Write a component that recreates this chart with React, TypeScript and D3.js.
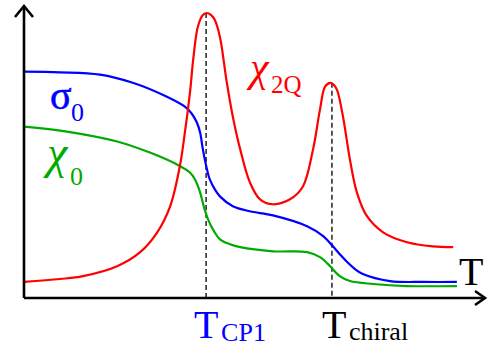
import * as d3 from "d3";
import { useEffect, useRef } from "react";

// curves: [T, value], both on a 0..100 scale
const chi2Q: [number, number][] = [
  [0, 5.5], [7.8, 6.5], [12.8, 7.5], [20.2, 10.9], [25.2, 15.7], [28.9, 22.5],
  [31.7, 31.4], [33.8, 45.1], [34.9, 56.7], [36.0, 70.3], [36.7, 81.6],
  [37.7, 92.8], [38.8, 96.9], [39.7, 97.6], [40.6, 96.9], [41.4, 95.2],
  [42.5, 89.4], [44.0, 73.7], [45.3, 62.1], [46.9, 50.9], [49.0, 39.6],
  [51.2, 33.8], [54.0, 32.1], [57.7, 33.8], [60.5, 38.2], [62.7, 50.9],
  [64.2, 64.5], [65.3, 72.4], [66.4, 73.7], [67.2, 73.0], [67.9, 71.3],
  [69.2, 62.1], [70.7, 47.4], [72.2, 36.2], [74.4, 28.0], [77.9, 22.5],
  [83.1, 19.1], [88.7, 17.7], [93.1, 17.4],
];

const sigma0: [number, number][] = [
  [0, 77.5], [7.8, 77.3], [16.5, 76.5], [23.6, 73.7], [31.0, 68.9],
  [34.9, 65.5], [36.4, 63.1], [37.5, 60.1], [38.2, 56.7], [38.8, 50.9],
  [39.7, 44.0], [40.3, 40.6], [41.4, 37.2], [42.5, 34.8], [45.3, 31.4],
  [49.0, 29.7], [54.0, 28.3], [61.4, 24.6], [64.9, 21.2], [67.0, 17.7],
  [68.5, 15.0], [70.1, 12.3], [71.8, 9.9], [73.5, 8.2], [79.4, 5.8],
  [86.6, 5.5], [93.9, 5.5],
];

const chi0: [number, number][] = [
  [0, 58.7], [9.3, 57.0], [20.2, 53.6], [27.3, 49.8], [33.2, 45.7],
  [36.0, 43.0], [37.1, 40.6], [38.2, 36.2], [39.0, 31.4], [39.9, 27.0],
  [41.2, 22.9], [42.5, 20.1], [44.7, 18.4], [46.9, 17.4], [54.0, 16.0],
  [61.4, 15.7], [64.2, 14.0], [65.3, 12.6], [66.4, 10.9], [68.5, 7.5],
  [70.7, 5.8], [75.7, 4.8], [83.1, 4.1], [93.9, 4.1],
];

// marked temperatures: [T, top of dashed line]
const markers: { name: string; sub: string; t: number; top: number; color: string }[] = [
  { name: "T", sub: "CP1", t: 39.5, top: 97.6, color: "#0000ff" },
  { name: "T", sub: "chiral", t: 66.8, top: 73.7, color: "#000000" },
];

const W = 488;
const H = 348;
const serif = "Liberation Serif, DejaVu Serif, serif";

export default function App() {
  const svgRef = useRef<SVGSVGElement>(null);

  useEffect(() => {
    const svg = d3.select(svgRef.current);
    svg.selectAll("*").remove();

    const x = d3.scaleLinear().domain([0, 100]).range([24, 485]);
    const y = d3.scaleLinear().domain([0, 100]).range([298, 6]);

    const line = d3
      .line<[number, number]>()
      .x((d) => x(d[0]))
      .y((d) => y(d[1]))
      .curve(d3.curveCatmullRom.alpha(0.5));

    // dashed guide lines
    svg.selectAll(".guide")
      .data(markers)
      .join("line")
      .attr("x1", (d) => x(d.t))
      .attr("x2", (d) => x(d.t))
      .attr("y1", (d) => y(d.top))
      .attr("y2", y(0))
      .attr("stroke", "#000")
      .attr("stroke-width", 1.3)
      .attr("stroke-dasharray", "5,3");

    const series = [
      { data: chi0, color: "#00aa00" },
      { data: sigma0, color: "#0000ff" },
      { data: chi2Q, color: "#ff0000" },
    ];
    svg.selectAll(".curve")
      .data(series)
      .join("path")
      .attr("d", (d) => line(d.data))
      .attr("fill", "none")
      .attr("stroke", (d) => d.color)
      .attr("stroke-width", 2.2);

    // axes with open arrow heads
    const ax = svg.append("g").attr("stroke", "#000").attr("stroke-width", 2.6).attr("fill", "none");
    ax.append("line").attr("x1", x(0)).attr("x2", x(0)).attr("y1", y(0)).attr("y2", y(100));
    ax.append("line").attr("x1", x(0)).attr("x2", x(100)).attr("y1", y(0)).attr("y2", y(0));
    ax.append("path")
      .attr("d", `M${x(0) - 9},${y(100) + 11}L${x(0)},${y(100)}L${x(0) + 9},${y(100) + 11}`);
    ax.append("path")
      .attr("d", `M${x(100) - 10},${y(0) - 7}L${x(100)},${y(0)}L${x(100) - 10},${y(0) + 7}`);

    const label = (tx: number, ty: number, s: string, size: number, color: string, italic = false) =>
      svg.append("text")
        .attr("x", tx)
        .attr("y", ty)
        .attr("fill", color)
        .attr("font-family", serif)
        .attr("font-size", size)
        .attr("font-style", italic ? "italic" : "normal")
        .text(s);

    // curve labels
    label(50, 109, "σ", 40, "#0000ff").attr("stroke", "#0000ff").attr("stroke-width", 0.6);
    label(71, 121, "0", 26, "#0000ff");
    label(47, 168, "χ", 46, "#00aa00", true);
    label(70, 185, "0", 26, "#00aa00");
    label(250, 81, "χ", 42, "#ff0000", true);
    label(271, 93, "2Q", 25, "#ff0000");

    // axis label
    label(459, 285, "T", 40, "#000");

    // temperature labels under the axis
    markers.forEach((m, i) => {
      const off = i === 0 ? -12 : -10;
      label(x(m.t) + off, 338, m.name, 40, m.color);
      label(x(m.t) + off + 27, i === 0 ? 341 : 340, m.sub, 26, m.color);
    });
  }, []);

  return (
    <div>
      <svg
        ref={svgRef}
        width={W}
        height={H}
        style={{ position: "absolute", left: 0, top: 0, background: "#fff" }}
      />
    </div>
  );
}
